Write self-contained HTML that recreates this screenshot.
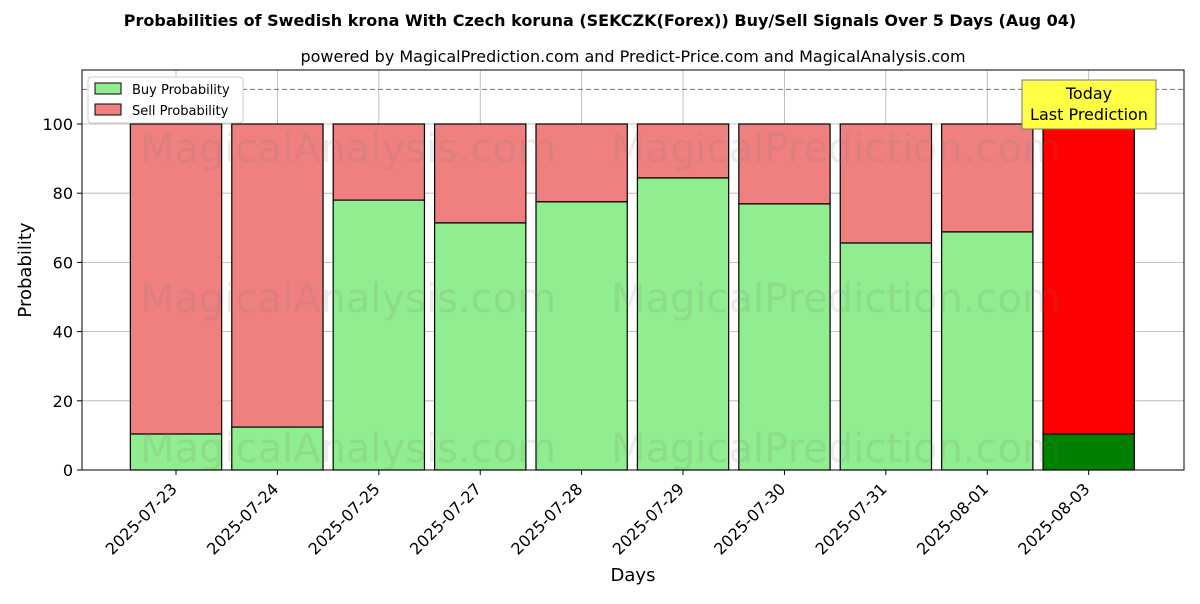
<!DOCTYPE html>
<html><head><meta charset="utf-8"><style>
body{margin:0;background:#fff;font-family:"DejaVu Sans","Liberation Sans",sans-serif;}
</style></head><body>
<svg id="chart" width="1200" height="600" xmlns="http://www.w3.org/2000/svg" font-family="DejaVu Sans, Liberation Sans, sans-serif">
<text x="600" y="26" text-anchor="middle" font-size="16" font-weight="bold">Probabilities of Swedish krona With Czech koruna (SEKCZK(Forex)) Buy/Sell Signals Over 5 Days (Aug 04)</text>
<text x="633" y="62" text-anchor="middle" font-size="16">powered by MagicalPrediction.com and Predict-Price.com and MagicalAnalysis.com</text>
<g id="grid"></g>
<g id="bars"></g>
<g id="wm" font-size="40" fill="rgba(120,120,120,0.15)" text-anchor="middle">
<text x="348" y="162">MagicalAnalysis.com</text>
<text x="836" y="162">MagicalPrediction.com</text>
<text x="348" y="312">MagicalAnalysis.com</text>
<text x="836" y="312">MagicalPrediction.com</text>
<text x="348" y="462">MagicalAnalysis.com</text>
<text x="836" y="462">MagicalPrediction.com</text>
</g>
<line x1="82" x2="1184" y1="89.4" y2="89.4" stroke="#777" stroke-dasharray="5,3"/>
<rect x="82" y="70" width="1102" height="400" fill="none" stroke="#000"/>
<g id="axes"></g>
<text x="633" y="581" text-anchor="middle" font-size="18">Days</text>
<text transform="translate(31,270) rotate(-90)" text-anchor="middle" font-size="18">Probability</text>
<g>
<rect x="88" y="77" width="155" height="46" fill="#fff" stroke="#ccc" rx="3"/>
<rect x="95" y="83" width="26" height="11" fill="#90ee90" stroke="#000"/>
<text x="132" y="94" font-size="13">Buy Probability</text>
<rect x="95" y="104" width="26" height="11" fill="#f08080" stroke="#000"/>
<text x="132" y="115" font-size="13">Sell Probability</text>
</g>
<g>
<rect x="1022" y="80" width="134" height="49" fill="#ffff44" stroke="#777"/>
<text x="1089" y="99" text-anchor="middle" font-size="16">Today</text>
<text x="1089" y="120" text-anchor="middle" font-size="16">Last Prediction</text>
</g>
</svg>
<script>
const categories=["2025-07-23","2025-07-24","2025-07-25","2025-07-27","2025-07-28","2025-07-29","2025-07-30","2025-07-31","2025-08-01","2025-08-03"];
const buyValues=[10.4,12.4,78.0,71.4,77.5,84.4,76.9,65.6,68.8,10.4];
const yTicks=[0,20,40,60,80,100];
const NS="http://www.w3.org/2000/svg";
const X0=82,X1=1184,Y0=470,Y1=70,xmin=-0.927,xmax=9.94,ymin=0,ymax=115.6;
const xs=i=>X0+(i-xmin)/(xmax-xmin)*(X1-X0);
const ys=v=>Y0-(v-ymin)/(ymax-ymin)*(Y0-Y1);
const bw=(X1-X0)/(xmax-xmin)*0.9;
function mk(tag,attrs,parent){const e=document.createElementNS(NS,tag);for(const k in attrs)e.setAttribute(k,attrs[k]);parent.appendChild(e);return e;}
const grid=document.getElementById('grid'),bars=document.getElementById('bars'),axes=document.getElementById('axes');
yTicks.forEach(t=>{
 const l=mk('line',{x1:X0,x2:X1,y1:ys(t),y2:ys(t),stroke:'#b0b0b0','stroke-width':0.8},grid);
 
 
 const tk=mk('line',{x1:X0-5,x2:X0,y1:ys(t),y2:ys(t),stroke:'#000'},axes);
 
 
 const tx=mk('text',{x:X0-9,y:ys(t)+6,'text-anchor':'end','font-size':16},axes);
 tx.textContent=t;
 
 
});
categories.forEach((c,i)=>{
 const cx=xs(i);
 const g=mk('line',{x1:cx,x2:cx,y1:Y1,y2:Y0,stroke:'#b0b0b0','stroke-width':0.8},grid);
 
 
 const last=i===categories.length-1;
 const b=buyValues[i];
 const s=mk('rect',{x:cx-bw/2,y:ys(100),width:bw,height:ys(b)-ys(100),fill:last?'#ff0000':'#f08080',stroke:'#000','stroke-width':1.2},bars);
 
 
 const r=mk('rect',{x:cx-bw/2,y:ys(b),width:bw,height:ys(0)-ys(b),fill:last?'#008000':'#90ee90',stroke:'#000','stroke-width':1.2},bars);
 
 
 const tk=mk('line',{x1:cx,x2:cx,y1:Y0,y2:Y0+5,stroke:'#000'},axes);
 
 
 const ax=cx+2, ay=Y0+20;
 const tx=mk('text',{x:ax,y:ay,'text-anchor':'end','font-size':16,transform:`rotate(-45 ${ax} ${ay})`},axes);
 tx.textContent=c;
 
 
});
</script>
</body></html>
